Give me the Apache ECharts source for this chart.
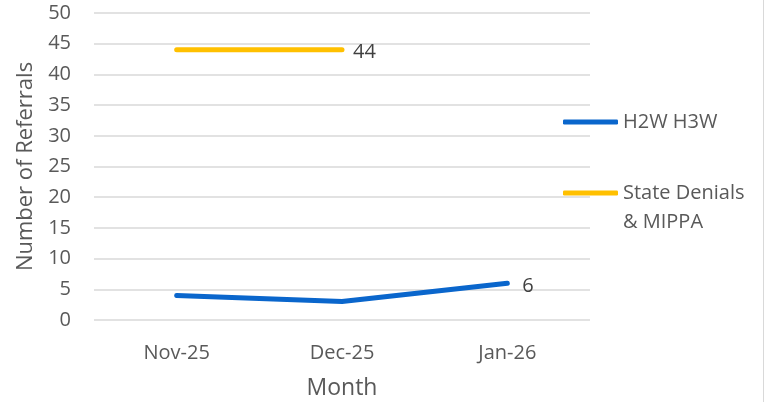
<!DOCTYPE html>
<html>
<head>
<meta charset="utf-8">
<script src="https://cdn.jsdelivr.net/npm/echarts@6/dist/echarts.min.js"></script>
<style>
html,body{margin:0;padding:0;background:#fff;}
#c1{width:768px;height:402px;}
</style>
</head>
<body>
<div id="c1"></div>
<script>
var months = ['Nov-25', 'Dec-25', 'Jan-26'];
var h2w_vals = [4, 3, 6];
var state_vals = [44, 44, null];
var h2w_label_idx = 2;
var state_label_idx = 1;

var txt_color = '#595959';
var font = 'Open Sans';

// show the value label only on one point
function label_at(idx, vals)
{
    return vals.map(function(v, i){
        if (i == idx) {
            return {value: v, label: {show: true}};
        }
        return v;
    });
}

var c1_chart = echarts.init(document.getElementById('c1'));
var c1_option = {
    animation: false,
    textStyle: {fontFamily: font},
    grid: {left: 94, right: 178, top: 13, bottom: 82, outerBoundsMode: 'none'},
    legend: [{
        orient: 'vertical',
        left: 563, top: 107.5,
        padding: 0,
        icon: 'roundRect',
        itemWidth: 55, itemHeight: 5,
        textStyle: {fontSize: 20, color: txt_color, fontFamily: font, lineHeight: 29},
        data: ['H2W H3W']
    }, {
        orient: 'vertical',
        left: 563, top: 149.5,
        padding: 0,
        icon: 'roundRect',
        itemWidth: 55, itemHeight: 5,
        textStyle: {fontSize: 20, color: txt_color, fontFamily: font, lineHeight: 29},
        formatter: function(name){ return ' \nState Denials\n& MIPPA'; },
        data: ['State Denials & MIPPA']
    }],
    xAxis: {
        type: 'category',
        data: months,
        boundaryGap: true,
        name: 'Month',
        nameLocation: 'middle',
        nameGap: 57,
        nameTextStyle: {fontSize: 23, color: txt_color},
        axisLine: {show: false},
        axisTick: {show: false},
        axisLabel: {fontSize: 20, color: txt_color, margin: 23}
    },
    yAxis: {
        type: 'value',
        min: 0, max: 50, interval: 5,
        name: 'Number of Referrals',
        nameLocation: 'middle',
        nameGap: 53,
        nameTextStyle: {fontSize: 22, color: txt_color},
        axisLine: {show: false},
        axisTick: {show: false},
        axisLabel: {fontSize: 20, color: txt_color, margin: 23},
        splitLine: {lineStyle: {color: '#d9d9d9', width: 1.5}}
    },
    series: [{
        name: 'H2W H3W',
        type: 'line',
        data: label_at(h2w_label_idx, h2w_vals),
        symbol: 'circle',
        symbolSize: 0,
        showSymbol: true,
        color: '#0A66CC',
        lineStyle: {width: 5, cap: 'round', join: 'round'},
        label: {show: false, position: 'right', distance: 15, offset: [0, 3], fontSize: 20, color: '#404040'}
    }, {
        name: 'State Denials & MIPPA',
        type: 'line',
        data: label_at(state_label_idx, state_vals),
        symbol: 'circle',
        symbolSize: 0,
        showSymbol: true,
        color: '#FFC000',
        lineStyle: {width: 5, cap: 'round', join: 'round'},
        label: {show: false, position: 'right', distance: 11, offset: [0, 2], fontSize: 20, color: '#404040'}
    }],
    graphic: [{
        type: 'line',
        shape: {x1: 763.5, y1: 0, x2: 763.5, y2: 402},
        style: {stroke: '#d9d9d9', lineWidth: 1}
    }]
};
c1_chart.setOption(c1_option);
</script>
</body>
</html>
